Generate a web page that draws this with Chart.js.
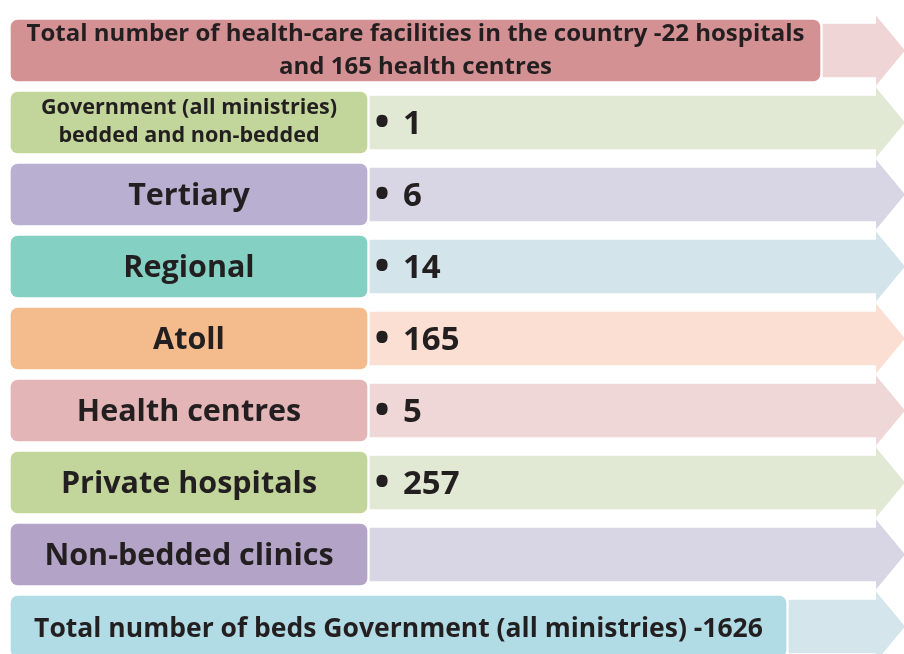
<!DOCTYPE html>
<html>
<head>
<meta charset="utf-8">
<script src="https://cdn.jsdelivr.net/npm/chart.js@4.4.1/dist/chart.umd.min.js"></script>
<style>
  html, body { margin: 0; padding: 0; background: #ffffff; overflow: hidden; width: 904px; height: 654px; }
  #wrap { position: relative; width: 904px; height: 663px; }
</style>
</head>
<body>
<div id="wrap"><canvas id="c" width="904" height="663"></canvas></div>
<script>
// ---- data ----
const categories = [
  ['Total number of health-care facilities in the country -22 hospitals', 'and 165 health centres'],
  ['Government (all ministries)', 'bedded and non-bedded'],
  'Tertiary',
  'Regional',
  'Atoll',
  'Health centres',
  'Private hospitals',
  'Non-bedded clinics',
  'Total number of beds Government (all ministries) -1626'
];
const counts = [null, 1, 6, 14, 165, 5, 257, null, null];
const boxColors = ['#d49194', '#c2d59b', '#b9afd0', '#84d0c2', '#f4bb8c', '#e3b5b7', '#c2d59b', '#b2a3c7', '#b1dbe5'];
const arrowColors = ['#efd5d6', '#e1e9d5', '#d8d6e4', '#d3e5ea', '#fbdfd3', '#efd6d7', '#e1e9d5', '#d8d6e4', '#d4e6ec'];

// ---- layout (pixel units on a 0..904 x axis) ----
const BOX_START = 11;
const HEADER = 0, FOOTER = categories.length - 1;
function boxEnd(i) { return i === HEADER ? 820 : (i === FOOTER ? 786 : 367); }
const SHAFT_END = 877;
const HEAD_LEN = 28, HEAD_HALF = 35;
const TEXT = '#231f20';
const FONT = '"Open Sans", Lato, sans-serif';

const boxSpans = categories.map((c, i) => [BOX_START, boxEnd(i)]);
const shaftSpans = categories.map((c, i) => [boxEnd(i) + 3, SHAFT_END]);

const overlay = {
  id: 'overlay',
  beforeDatasetsDraw(chart) {
    const ctx = chart.ctx;
    const meta = chart.getDatasetMeta(1);
    ctx.save();
    meta.data.forEach((el, i) => {
      const x = el.x, y = el.y;
      ctx.beginPath();
      ctx.moveTo(x - 1, y - HEAD_HALF);
      ctx.lineTo(x + HEAD_LEN, y);
      ctx.lineTo(x - 1, y + HEAD_HALF);
      ctx.closePath();
      ctx.fillStyle = arrowColors[i];
      ctx.fill();
    });
    ctx.restore();
  },
  afterDatasetsDraw(chart) {
    const ctx = chart.ctx;
    const boxes = chart.getDatasetMeta(0).data;
    const shafts = chart.getDatasetMeta(1).data;
    ctx.save();
    ctx.fillStyle = TEXT;
    ctx.textBaseline = 'middle';
    boxes.forEach((el, i) => {
      const cx = (el.x + el.base) / 2, cy = el.y + 2;
      const label = categories[i];
      ctx.textAlign = 'center';
      if (i === HEADER) {
        ctx.font = 'bold 24px ' + FONT;
        ctx.fillText(label[0], cx, cy - 18);
        ctx.fillText(label[1], cx, cy + 15);
      } else if (Array.isArray(label)) {
        ctx.font = 'bold 21.6px ' + FONT;
        ctx.fillText(label[0], cx, cy - 17);
        ctx.fillText(label[1], cx, cy + 11);
      } else if (i === FOOTER) {
        ctx.font = 'bold 26.5px ' + FONT;
        ctx.fillText(label, cx, cy + 1);
      } else {
        ctx.font = 'bold 30.5px ' + FONT;
        ctx.fillText(label, cx, cy);
      }
      const v = counts[i];
      if (v !== null && v !== undefined) {
        const s = shafts[i];
        ctx.textAlign = 'center';
        ctx.font = 'bold 40px ' + FONT;
        ctx.fillText('\u2022', s.base + 12, cy - 1);
        ctx.textAlign = 'left';
        ctx.font = 'bold 33px ' + FONT;
        ctx.fillText(String(v), s.base + 33, cy);
      }
    });
    ctx.restore();
  }
};

new Chart(document.getElementById('c'), {
  type: 'bar',
  data: {
    labels: categories,
    datasets: [
      {
        label: 'category',
        data: boxSpans,
        backgroundColor: boxColors,
        borderRadius: 7,
        borderSkipped: false,
        barThickness: 61,
        grouped: false,
        order: 1
      },
      {
        label: 'count',
        data: shaftSpans,
        backgroundColor: arrowColors,
        borderRadius: 0,
        borderSkipped: false,
        barThickness: 53,
        grouped: false,
        order: 2
      }
    ]
  },
  options: {
    indexAxis: 'y',
    responsive: false,
    animation: false,
    layout: { padding: { top: 14.5, bottom: 0.5, left: 0, right: 0 } },
    scales: {
      x: { type: 'linear', min: 0, max: 904, display: false },
      y: { type: 'category', display: false, offset: true }
    },
    plugins: { legend: { display: false }, tooltip: { enabled: false } }
  },
  plugins: [overlay]
});
</script>
</body>
</html>
